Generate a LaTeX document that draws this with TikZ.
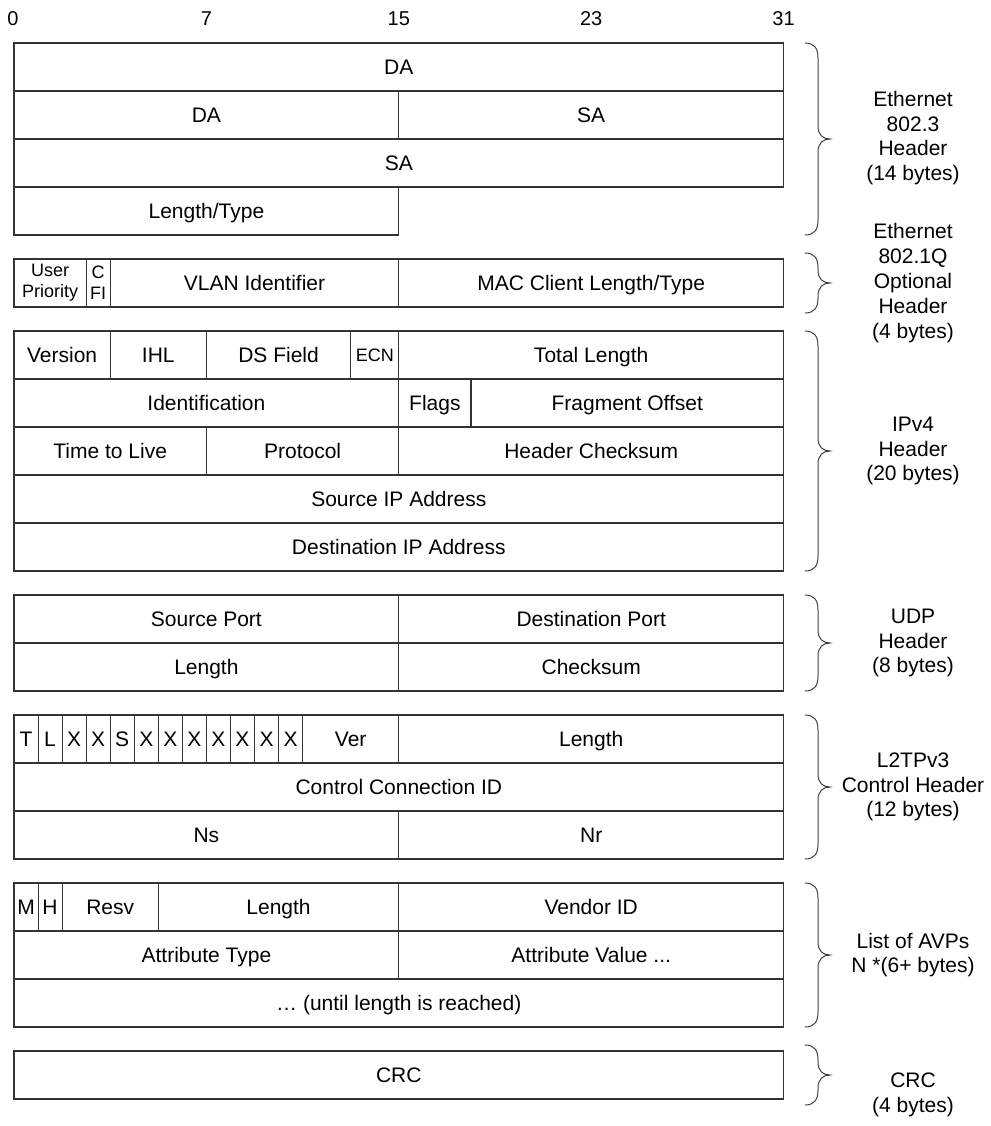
\documentclass[tikz,border=0pt]{standalone}
\usepackage{fontspec}
\setmainfont{Liberation Sans}
\newcommand\bitw{24.05}
\newcommand\pcell[6][]{%
  \node[cell,#1,minimum width={\bitw*(#4-#3)}] (#2) at ({14+(#3+#4)/2*\bitw},{#5+24}) {#6};}
\newcommand\pbrace[2]{%
  \pgfmathsetmacro\brT{#1}\pgfmathsetmacro\brB{#2}\pgfmathsetmacro\brM{(#1+#2)/2}%
  \draw[brc] (805,\brT) .. controls (814,\brT) and (818,{\brT+5}) .. (818,{\brT+15})
    -- (818,{\brM-13}) .. controls (818,{\brM-4}) and (823,\brM) .. (830,\brM)
    .. controls (823,\brM) and (818,{\brM+4}) .. (818,{\brM+13})
    -- (818,{\brB-15}) .. controls (818,{\brB-5}) and (814,\brB) .. (805,\brB);}
\begin{document}
\begin{tikzpicture}[x=1pt,y=-1pt,
  ln/.style={draw=black!80,line width=1.1pt},
  brc/.style={draw=black!75,line width=1pt},
  cell/.style={ln,rectangle,inner sep=0pt,outer sep=0pt,minimum height=48pt,
    font=\fontsize{21}{24}\selectfont,align=center,text height=15pt,text depth=0pt},
  small/.style={font=\fontsize{18}{21}\selectfont,text height=,text depth=},
  smallone/.style={font=\fontsize{18}{21}\selectfont,text height=13pt},
  lbl/.style={align=center,inner sep=0pt,font=\fontsize{21}{24.5}\selectfont},
  num/.style={inner sep=0pt,font=\fontsize{20}{24}\selectfont}]
\useasboundingbox (0,0) rectangle (990,1126);
% bit numbers
\node[num] (n0) at (13,19) {0};
\node[num] (n7) at ({14+8*\bitw},19) {7};
\node[num] (n15) at ({14+16*\bitw},19) {15};
\node[num] (n23) at ({14+24*\bitw},19) {23};
\node[num] (n31) at ({14+32*\bitw},19) {31};
% Ethernet 802.3
\pcell{e1}{0}{32}{43}{DA}
\pcell{e2a}{0}{16}{91}{DA}
\pcell{e2b}{16}{32}{91}{SA}
\pcell{e3}{0}{32}{139}{SA}
\pcell{e4}{0}{16}{187}{Length/Type}
% 802.1Q
\pcell[small]{q1}{0}{3}{259}{User\\Priority}
\pcell[small]{q2}{3}{4}{259}{C\\FI}
\pcell{q3}{4}{16}{259}{VLAN Identifier}
\pcell{q4}{16}{32}{259}{MAC Client Length/Type}
% IPv4
\pcell{i1}{0}{4}{331}{Version}
\pcell{i2}{4}{8}{331}{IHL}
\pcell{i3}{8}{14}{331}{DS Field}
\pcell[smallone]{i4}{14}{16}{331}{ECN}
\pcell{i5}{16}{32}{331}{Total Length}
\pcell{i6}{0}{16}{379}{Identification}
\pcell{i7}{16}{19}{379}{Flags}
\pcell{i8}{19}{32}{379}{Fragment Offset}
\pcell{i9}{0}{8}{427}{Time to Live}
\pcell{i10}{8}{16}{427}{Protocol}
\pcell{i11}{16}{32}{427}{Header Checksum}
\pcell{i12}{0}{32}{475}{Source IP Address}
\pcell{i13}{0}{32}{523}{Destination IP Address}
% UDP
\pcell{u1}{0}{16}{595}{Source Port}
\pcell{u2}{16}{32}{595}{Destination Port}
\pcell{u3}{0}{16}{643}{Length}
\pcell{u4}{16}{32}{643}{Checksum}
% L2TPv3
\pcell{l0}{0}{1}{715}{T}
\pcell{l1}{1}{2}{715}{L}
\pcell{l2}{2}{3}{715}{X}
\pcell{l3}{3}{4}{715}{X}
\pcell{l4}{4}{5}{715}{S}
\pcell{l5}{5}{6}{715}{X}
\pcell{l6}{6}{7}{715}{X}
\pcell{l7}{7}{8}{715}{X}
\pcell{l8}{8}{9}{715}{X}
\pcell{l9}{9}{10}{715}{X}
\pcell{l10}{10}{11}{715}{X}
\pcell{l11}{11}{12}{715}{X}
\pcell{l12}{12}{16}{715}{Ver}
\pcell{l13}{16}{32}{715}{Length}
\pcell{l14}{0}{32}{763}{Control Connection ID}
\pcell{l15}{0}{16}{811}{Ns}
\pcell{l16}{16}{32}{811}{Nr}
% AVPs
\pcell{a1}{0}{1}{883}{M}
\pcell{a2}{1}{2}{883}{H}
\pcell{a3}{2}{6}{883}{Resv}
\pcell{a4}{6}{16}{883}{Length}
\pcell{a5}{16}{32}{883}{Vendor ID}
\pcell{a6}{0}{16}{931}{Attribute Type}
\pcell{a7}{16}{32}{931}{Attribute Value ...}
\pcell{a8}{0}{32}{979}{… (until length is reached)}
% CRC
\pcell{c1}{0}{32}{1051}{CRC}
% braces
\pbrace{43}{235}
\pbrace{253}{313}
\pbrace{331}{571}
\pbrace{595}{691}
\pbrace{715}{859}
\pbrace{883}{1027}
\pbrace{1045}{1105}
% labels
\node[lbl] (t1) at (913,138) {Ethernet\\802.3\\Header\\(14 bytes)};
\node[lbl,font=\fontsize{21}{25}\selectfont] (t2) at (913,283) {Ethernet\\802.1Q\\Optional\\Header\\(4 bytes)};
\node[lbl] (t3) at (913,451) {IPv4\\Header\\(20 bytes)};
\node[lbl] (t4) at (913,643) {UDP\\Header\\(8 bytes)};
\node[lbl] (t5) at (913,787) {L2TPv3\\Control Header\\(12 bytes)};
\node[lbl] (t6) at (913,955) {List of AVPs\\N *(6+ bytes)};
\node[lbl] (t7) at (913,1095) {CRC\\(4 bytes)};
\end{tikzpicture}
\end{document}
